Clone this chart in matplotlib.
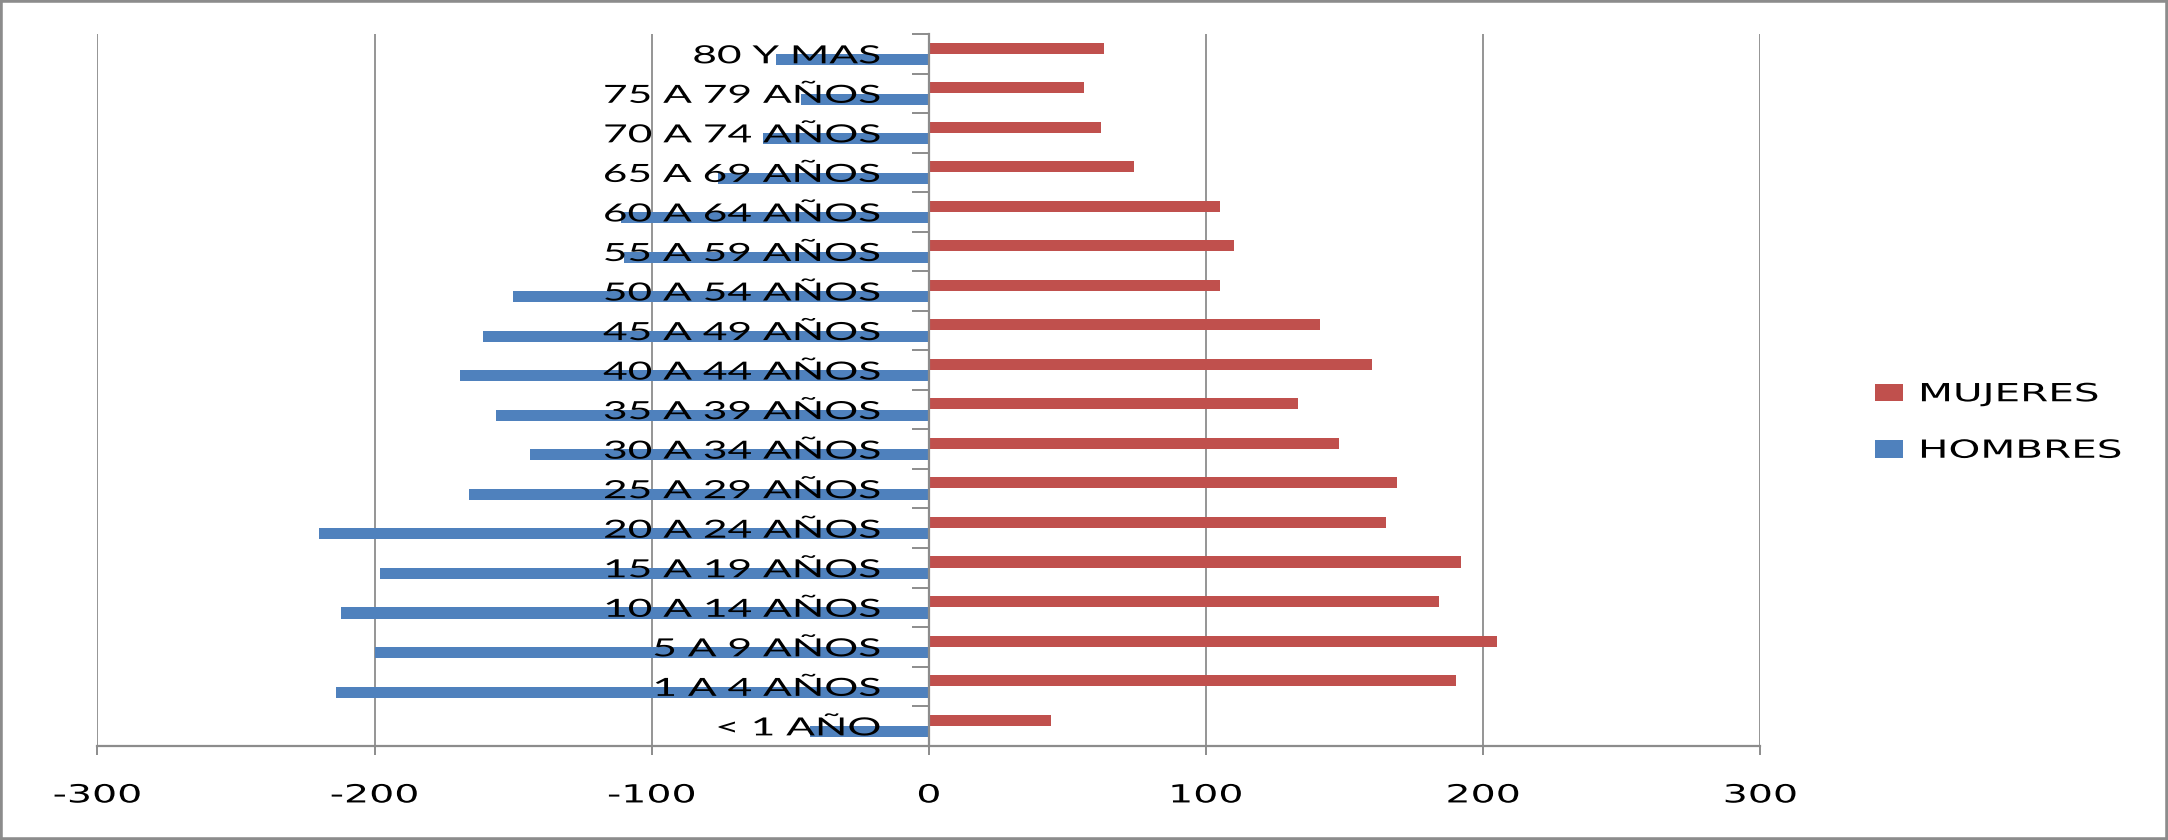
import numpy as np
import matplotlib
matplotlib.use("Agg")
import matplotlib.pyplot as plt
import matplotlib.patheffects as pe
from matplotlib.transforms import Affine2D
from matplotlib.patches import Rectangle

# age groups, bottom to top
grupos = ["< 1 AÑO", "1 A 4 AÑOS", "5 A 9 AÑOS", "10 A 14 AÑOS", "15 A 19 AÑOS",
          "20 A 24 AÑOS", "25 A 29 AÑOS", "30 A 34 AÑOS", "35 A 39 AÑOS",
          "40 A 44 AÑOS", "45 A 49 AÑOS", "50 A 54 AÑOS", "55 A 59 AÑOS",
          "60 A 64 AÑOS", "65 A 69 AÑOS", "70 A 74 AÑOS", "75 A 79 AÑOS", "80 Y MAS"]
hombres = [43, 214, 200, 212, 198, 220, 166, 144, 156, 169, 161, 150, 110, 111, 76, 60, 46, 55]
mujeres = [44, 190, 205, 184, 192, 165, 169, 148, 133, 160, 141, 105, 110, 105, 74, 62, 56, 63]
xticks = [-300, -200, -100, 0, 100, 200, 300]
xlabels = ["-300", "-200", "-100", "0", "100", "200", "300"]

azul = "#4F81BD"
rojo = "#C0504D"
gris = "#8C8C8C"


class Stretch(pe.AbstractPathEffect):
    """widen the glyphs horizontally (the original chart was stretched)"""
    def __init__(self, sx, anchor="center"):
        super().__init__()
        self.sx = sx
        self.anchor = anchor

    def draw_path(self, renderer, gc, tpath, affine, rgbFace=None):
        ext = tpath.get_extents()
        if self.anchor == "left":
            x0 = 0
        elif self.anchor == "right":
            x0 = ext.x1
        else:
            x0 = (ext.x0 + ext.x1) / 2
        t = Affine2D().translate(-x0, 0).scale(self.sx, 1).translate(x0, 0)
        renderer.draw_path(gc, tpath, t + affine, rgbFace)


fig = plt.figure(figsize=(21.68, 8.4), dpi=100)
ax = fig.add_axes([0.0449, 0.1123, 0.8120 - 0.0449, 0.9595 - 0.1123])

y = np.arange(len(grupos))
h = 0.28
off = 0.145
ax.barh(y - off, -np.array(hombres), height=h, color=azul, label="HOMBRES", zorder=1)
ax.barh(y + off, mujeres, height=h, color=rojo, label="MUJERES", zorder=1)

ax.set_xlim(-300, 300)
ax.set_ylim(-0.5, len(grupos) - 0.5)

ax.set_xticks(xticks, labels=xlabels)
ax.grid(axis="x", color=gris, lw=1.3)
ax.xaxis.set_zorder(0.5)
ax.yaxis.set_zorder(3)
ax.tick_params(axis="x", length=6.2, width=1.4, color=gris, pad=21, labelsize=18)
for t in ax.get_xticklabels():
    t.set_fontfamily("DejaVu Sans")
    t.set_path_effects([Stretch(1.58, "center")])

ax.spines["left"].set_position(("data", 0))
ax.spines["left"].set_color(gris)
ax.spines["left"].set_linewidth(1.6)
ax.spines["bottom"].set_color(gris)
ax.spines["bottom"].set_linewidth(1.6)
ax.spines["top"].set_visible(False)
ax.spines["right"].set_visible(False)

ax.set_yticks(y, labels=grupos)
ax.set_yticks(np.arange(len(grupos) + 1) - 0.5, minor=True)
ax.tick_params(axis="y", which="major", length=0, pad=35, labelsize=18)
ax.tick_params(axis="y", which="minor", length=12.2, width=1.4, color=gris)
for t in ax.get_yticklabels():
    t.set_fontfamily("Lato")
    t.set_path_effects([Stretch(1.7, "right")])

handles, labels = ax.get_legend_handles_labels()
leg = fig.legend(handles[::-1], labels[::-1], loc="center left",
                 bbox_to_anchor=(1875 / 2168, 1 - 422.5 / 840),
                 frameon=False, borderpad=0, borderaxespad=0,
                 handlelength=1.12, handleheight=0.72, handletextpad=0.6,
                 labelspacing=1.3, prop={"family": "DejaVu Sans", "size": 18})
for t in leg.get_texts():
    t.set_path_effects([Stretch(1.62, "left")])

fig.patches.append(Rectangle((0, 0), 1, 1, transform=fig.transFigure, fill=False,
                             edgecolor=gris, lw=4))

fig.savefig("out.png", dpi=100)
